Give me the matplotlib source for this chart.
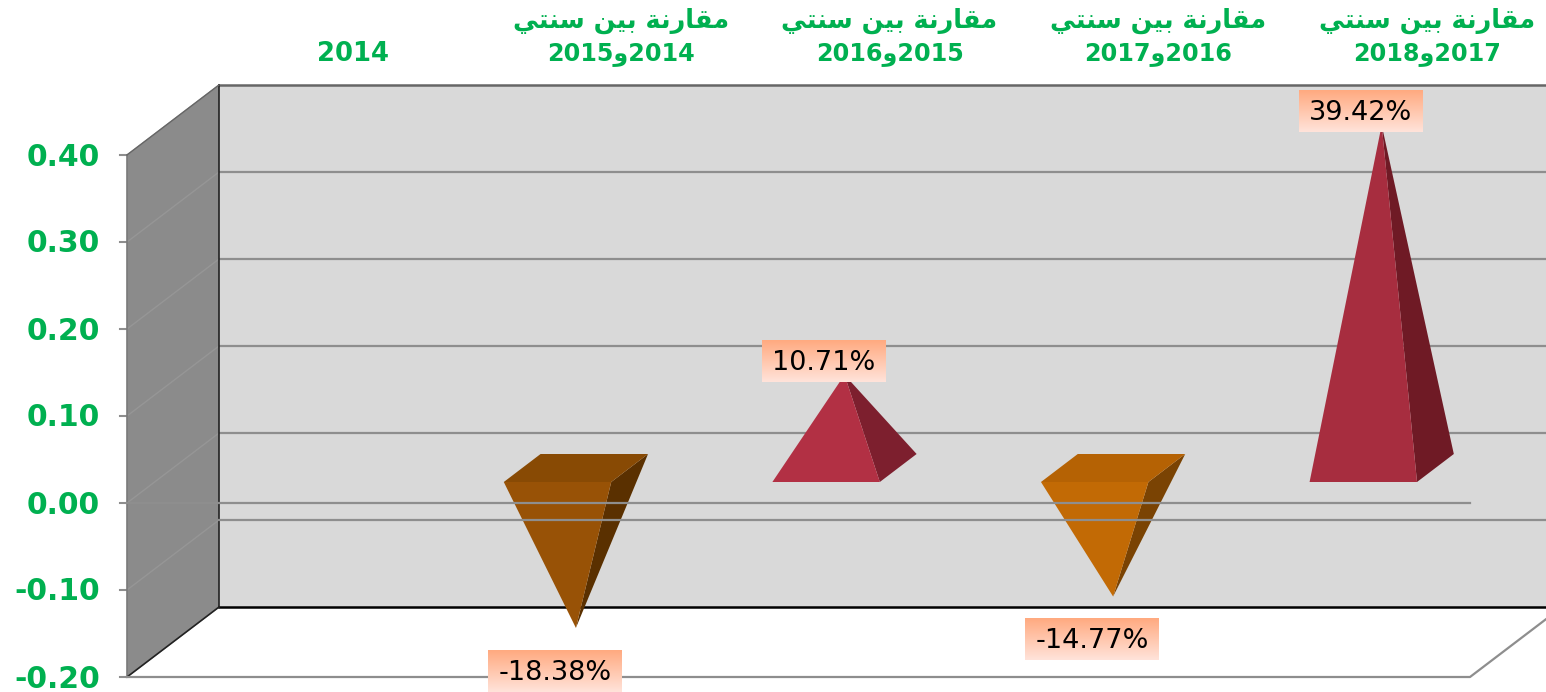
import numpy as np
import matplotlib
matplotlib.use("Agg")
import matplotlib.pyplot as plt
from matplotlib.patches import Polygon
from matplotlib.colors import LinearSegmentedColormap

# Data
categories = [0, 1, 2, 3, 4]
values = [np.nan, -0.1838, 0.1071, -0.1477, 0.3942]
labels = ["", "-18.38%", "10.71%", "-14.77%", "39.42%"]
first_years = ["", "2014", "2015", "2016", "2017"]
second_years = ["2014", "2015", "2016", "2017", "2018"]
header_text = "مقارنة بين سنتي"
y_ticks = [0.40, 0.30, 0.20, 0.10, 0.00, -0.10, -0.20]

# face colours: front, side, top
face_colors = [None,
               ("#985206", "#5a3000", "#884a04"),
               ("#b23044", "#7d1f2e", None),
               ("#c26a05", "#7a4303", "#b56204"),
               ("#a72d3f", "#6f1a25", None)]

GREEN = "#00b050"
GRID = "#8e8e8e"

# depth of the fake 3d box, in data units
DEPTH_X = 92 / 268.6
DEPTH_Y = 70 / 870


# (cat, value, depth) -> data coordinates, depth 0 is the front plane, 1 the back wall
def project(cat, val, depth=0.0):
    return cat + depth * DEPTH_X, val + depth * DEPTH_Y


# presentation forms: isolated, final, initial, medial
FORMS = {
    "ا": (0xFE8D, 0xFE8E, None, None),
    "ب": (0xFE8F, 0xFE90, 0xFE91, 0xFE92),
    "ة": (0xFE93, 0xFE94, None, None),
    "ت": (0xFE95, 0xFE96, 0xFE97, 0xFE98),
    "ر": (0xFEAD, 0xFEAE, None, None),
    "س": (0xFEB1, 0xFEB2, 0xFEB3, 0xFEB4),
    "ق": (0xFED5, 0xFED6, 0xFED7, 0xFED8),
    "م": (0xFEE1, 0xFEE2, 0xFEE3, 0xFEE4),
    "ن": (0xFEE5, 0xFEE6, 0xFEE7, 0xFEE8),
    "و": (0xFEED, 0xFEEE, None, None),
    "ي": (0xFEF1, 0xFEF2, 0xFEF3, 0xFEF4),
}


# matplotlib does no arabic shaping, so do it here and return visual order
def shape_arabic(text):
    out = []
    for i, ch in enumerate(text):
        if ch not in FORMS:
            out.append(ch)
            continue
        prev = text[i - 1] if i > 0 else " "
        nxt = text[i + 1] if i < len(text) - 1 else " "
        joins_prev = prev in FORMS and FORMS[prev][2] is not None
        joins_next = nxt in FORMS and FORMS[ch][2] is not None
        if joins_prev and joins_next:
            out.append(chr(FORMS[ch][3]))
        elif joins_prev:
            out.append(chr(FORMS[ch][1]))
        elif joins_next:
            out.append(chr(FORMS[ch][2]))
        else:
            out.append(chr(FORMS[ch][0]))
    return "".join(reversed(out))


fig = plt.figure(figsize=(15.46, 6.92), dpi=100)
ax = fig.add_axes([0, 0, 1, 1])
px_x = 268.6
px_y = 870.0
ax.set_xlim(-0.5 - 127 / px_x, -0.5 + (1546 - 127) / px_x)
ax.set_ylim(-(692 - 503) / px_y, 503 / px_y)
ax.axis("off")

top = max(y_ticks)
bottom = min(y_ticks)
left = categories[0] - 0.5
right = categories[-1] + 0.5

# back wall and side wall
ax.add_patch(Polygon([project(left, bottom, 1), project(right, bottom, 1),
                      project(right, top, 1), project(left, top, 1)],
                     fc="#d9d9d9", ec="none", zorder=1))
ax.add_patch(Polygon([project(left, bottom, 0), project(left, bottom, 1),
                      project(left, top, 1), project(left, top, 0)],
                     fc="#8b8b8b", ec="none", zorder=1))

# gridlines on the back wall, faint lines on the side wall, small ticks
for t in y_ticks:
    x0, y0 = project(left, t, 0)
    x1, y1 = project(left, t, 1)
    x2, y2 = project(right, t, 1)
    ax.plot([x0, x1], [y0, y1], color="#969696", lw=1.0, zorder=2)
    if t == bottom:
        ax.plot([x1, x2], [y1, y2], color="black", lw=1.8, zorder=3)
    elif t == top:
        ax.plot([x1, x2], [y1, y2], color="#666666", lw=1.8, zorder=3)
    elif t == -0.10:
        ax.plot([x1, x2], [y1, y2], color=GRID, lw=1.6, zorder=6)
    else:
        ax.plot([x1, x2], [y1, y2], color=GRID, lw=1.6, zorder=3)
    ax.plot([x0 - 7 / px_x, x0], [y0, y0], color=GRID, lw=1.5, zorder=3)
    ax.text(x0 - 27 / px_x, t - 2 / px_y, f"{t:.2f}", color=GREEN, fontsize=21.5, fontweight="bold",
            ha="right", va="center", zorder=8)

# wall edges and floor
ax.plot(*zip(project(left, top, 0), project(left, bottom, 0)), color="#7a7a7a", lw=1.2, zorder=3)
ax.plot(*zip(project(left, top, 1), project(left, bottom, 1)), color="#222222", lw=1.2, zorder=3)
ax.plot(*zip(project(left, top, 0), project(left, top, 1)), color="#666666", lw=1.0, zorder=3)
ax.plot(*zip(project(left, bottom, 0), project(left, bottom, 1)), color="#222222", lw=1.2, zorder=3)
ax.plot(*zip(project(left, bottom, 0), project(right, bottom, 0), project(right, bottom, 1)),
        color=GRID, lw=1.6, zorder=3)

# pyramids
half = 0.2
for cat, val, cols in zip(categories, values, face_colors):
    if np.isnan(val):
        continue
    front, side, lid = cols
    fl = project(cat - half, 0, 0.3)
    fr = project(cat + half, 0, 0.3)
    br = project(cat + half, 0, 0.7)
    bl = project(cat - half, 0, 0.7)
    apex = project(cat, val, 0.5)
    ax.add_patch(Polygon([fr, br, apex], fc=side, ec="none", zorder=4))
    ax.add_patch(Polygon([fl, fr, apex], fc=front, ec="none", zorder=4))
    if lid is not None:
        ax.add_patch(Polygon([fl, fr, br, bl], fc=lid, ec="none", zorder=4))

# zero line in the front plane goes over the pyramids
ax.plot(*zip(project(left, 0, 0), project(right, 0, 0)), color=GRID, lw=1.6, zorder=6)

# value labels with gradient boxes
box_cmap = LinearSegmentedColormap.from_list("box", ["#ffaa80", "#ffe3da"])
gradient = np.linspace(0, 1, 64).reshape(-1, 1)
renderer = fig.canvas.get_renderer()
for cat, val, lab in zip(categories, values, labels):
    if np.isnan(val):
        continue
    shift = 49 / px_y if val > 0 else -8 / px_y
    cx, _ = project(cat, val, 0.27)
    cy = val + shift
    txt = ax.text(cx, cy - 2 / px_y, lab, color="black", fontsize=19.5, ha="center", va="center", zorder=11)
    w = txt.get_window_extent(renderer).width + 20
    ax.imshow(gradient, cmap=box_cmap, aspect="auto", zorder=10, origin="upper",
              extent=(cx - w / 2 / px_x, cx + w / 2 / px_x, cy - 21 / px_y, cy + 21 / px_y))

ax.set_xlim(-0.5 - 127 / px_x, -0.5 + (1546 - 127) / px_x)
ax.set_ylim(-(692 - 503) / px_y, 503 / px_y)

# headers above the back wall
shaped_header = shape_arabic(header_text)
for cat, a, b in zip(categories, first_years, second_years):
    hx, _ = project(cat, 0, 1)
    hy_low = top + 101 / px_y
    hy_high = top + 134 / px_y
    if a:
        ax.text(hx - 1 / px_x, hy_high, shaped_header, color=GREEN, fontsize=18.4, fontweight="bold",
                ha="center", va="center", zorder=8)
        ax.text(hx - 1 / px_x, hy_low, b + chr(FORMS["و"][0]) + a, color=GREEN, fontsize=17.2,
                fontweight="bold", ha="center", va="center", zorder=8)
    else:
        ax.text(hx, hy_low, b, color=GREEN, fontsize=18.6, fontweight="bold",
                ha="center", va="center", zorder=8)

fig.savefig("out.png", dpi=100, facecolor="white")
